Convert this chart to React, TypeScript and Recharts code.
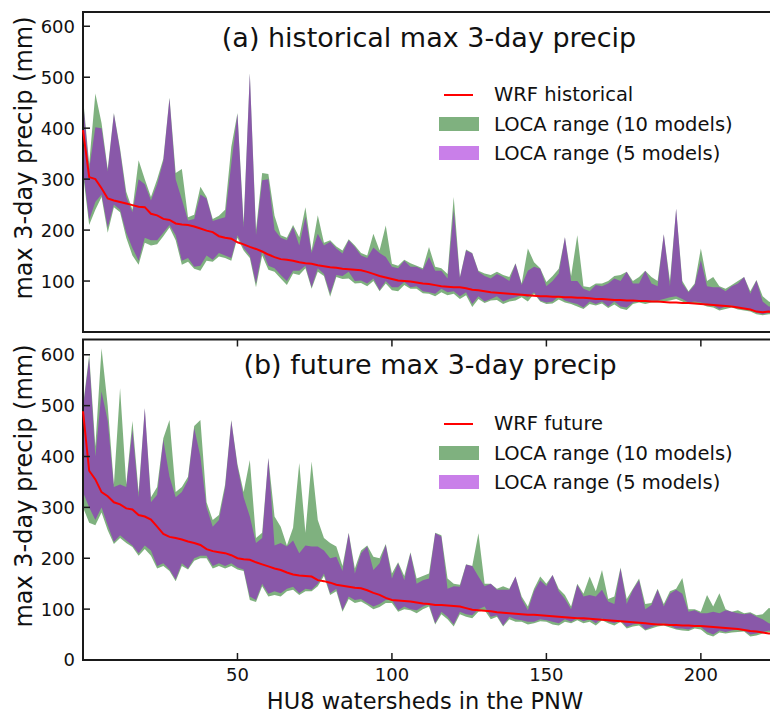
import React from 'react';
import { ComposedChart, Area, Line, XAxis, YAxis, ReferenceArea } from 'recharts';

const FONT = '"DejaVu Sans", sans-serif';
const INK = '#1a1a1a';

// watershed index (every second HU8 watershed, sorted by WRF value)
const watershed = [
  0, 2, 4, 6, 8, 10, 12, 14, 16, 18, 20, 22, 24, 26, 28, 30, 32, 34, 36, 38,
  40, 42, 44, 46, 48, 50, 52, 54, 56, 58, 60, 62, 64, 66, 68, 70, 72, 74, 76, 78,
  80, 82, 84, 86, 88, 90, 92, 94, 96, 98, 100, 102, 104, 106, 108, 110, 112, 114, 116, 118,
  120, 122, 124, 126, 128, 130, 132, 134, 136, 138, 140, 142, 144, 146, 148, 150, 152, 154, 156, 158,
  160, 162, 164, 166, 168, 170, 172, 174, 176, 178, 180, 182, 184, 186, 188, 190, 192, 194, 196, 198,
  200, 202, 204, 206, 208, 210, 212, 214, 216, 218, 220, 222, 224,
];

// (a) historical
const histWrf = [
  396, 304, 300, 282, 262, 258, 255, 252, 249, 246, 245, 232, 229, 222, 220, 213, 211, 210, 207, 203,
  199, 196, 188, 185, 183, 176, 172, 167, 163, 158, 152, 147, 143, 142, 140, 137, 135, 134, 131, 129,
  127, 126, 124, 123, 122, 121, 118, 114, 110, 107, 104, 101, 100, 99, 97, 95, 94, 92, 90, 89,
  88, 88, 86, 83, 82, 80, 78, 77, 76, 75, 74, 73, 72, 71, 70, 70, 69, 69, 68, 68,
  67, 67, 66, 65, 65, 64, 63, 63, 62, 62, 61, 61, 60, 60, 59, 58, 58, 57, 57, 56,
  55, 54, 53, 52, 51, 50, 48, 46, 44, 40, 39, 40, 39,
];
const histHi10 = [
  460, 330, 468, 410, 320, 430, 360, 275, 240, 337, 300, 265, 300, 340, 460, 312, 320, 225, 230, 285,
  265, 222, 228, 240, 363, 430, 215, 508, 200, 312, 310, 228, 190, 185, 210, 186, 245, 160, 229, 175,
  180, 168, 160, 182, 170, 155, 150, 193, 160, 209, 134, 130, 142, 135, 130, 125, 167, 128, 125, 114,
  265, 108, 162, 155, 120, 115, 112, 118, 112, 108, 135, 95, 164, 137, 125, 98, 110, 124, 186, 110,
  190, 90, 88, 95, 95, 100, 110, 112, 118, 100, 108, 120, 108, 100, 192, 100, 242, 100, 80, 95,
  164, 100, 108, 90, 85, 92, 100, 108, 80, 102, 70, 60, 55,
];
const histHi5 = [
  455, 320, 402, 400, 315, 428, 355, 265, 235, 300, 290, 258, 290, 335, 458, 300, 260, 219, 222, 270,
  262, 218, 222, 225, 330, 428, 205, 507, 190, 298, 300, 200, 185, 180, 206, 170, 226, 155, 193, 170,
  177, 164, 154, 180, 167, 150, 145, 166, 155, 147, 128, 125, 140, 128, 128, 122, 147, 120, 120, 105,
  239, 106, 160, 154, 118, 110, 105, 114, 108, 100, 134, 92, 120, 128, 124, 90, 100, 115, 186, 100,
  100, 85, 80, 92, 90, 95, 105, 100, 118, 95, 95, 120, 95, 90, 192, 90, 242, 95, 78, 92,
  141, 90, 88, 88, 80, 90, 95, 108, 75, 101, 60, 50, 50,
];
const histLo5 = [
  320, 220, 255, 270, 205, 250, 240, 195, 165, 140, 185, 180, 180, 195, 210, 190, 140, 145, 128, 130,
  150, 142, 155, 150, 145, 190, 165, 150, 95, 160, 130, 125, 112, 100, 120, 120, 130, 88, 125, 114,
  75, 112, 110, 118, 100, 101, 95, 105, 82, 100, 88, 88, 98, 88, 90, 80, 78, 75, 85, 78,
  80, 70, 78, 55, 70, 60, 65, 70, 60, 65, 68, 72, 68, 78, 62, 58, 60, 70, 62, 58,
  55, 48, 60, 55, 60, 50, 60, 50, 48, 58, 62, 60, 62, 62, 65, 68, 70, 65, 58, 60,
  58, 55, 52, 45, 50, 52, 48, 45, 43, 38, 35, 38, 38,
];
const histLo10 = [
  310, 210, 240, 265, 195, 245, 235, 185, 150, 132, 175, 170, 172, 188, 205, 180, 132, 138, 124, 120,
  140, 138, 148, 145, 140, 185, 160, 145, 88, 150, 122, 118, 105, 92, 115, 112, 125, 85, 118, 110,
  69, 108, 104, 105, 95, 96, 90, 100, 80, 95, 82, 80, 92, 85, 85, 76, 75, 70, 78, 72,
  75, 65, 72, 49, 65, 57, 62, 63, 55, 60, 62, 68, 60, 75, 60, 55, 56, 64, 58, 55,
  50, 45, 55, 52, 56, 47, 54, 46, 43, 55, 58, 55, 58, 58, 60, 62, 65, 60, 55, 56,
  55, 50, 48, 42, 45, 48, 44, 42, 40, 35, 33, 35, 35,
];

// (b) future
const futWrf = [
  489, 372, 355, 330, 322, 310, 306, 298, 296, 285, 282, 276, 262, 248, 242, 240, 237, 233, 230, 226,
  218, 214, 212, 210, 206, 200, 198, 197, 192, 188, 184, 180, 177, 172, 168, 166, 165, 164, 157, 155,
  152, 148, 146, 144, 142, 141, 137, 132, 128, 122, 118, 117, 116, 115, 113, 111, 110, 108, 108, 107,
  106, 105, 102, 99, 98, 97, 96, 94, 93, 92, 91, 90, 89, 89, 88, 87, 86, 85, 84, 83,
  82, 82, 81, 80, 79, 78, 77, 76, 75, 74, 73, 72, 71, 70, 70, 69, 69, 68, 68, 67,
  67, 66, 65, 64, 63, 62, 61, 59, 57, 56, 54, 52, 52,
];
const futHi10 = [
  500, 600, 420, 613, 500, 345, 534, 345, 470, 330, 495, 320, 340, 436, 472, 330, 340, 360, 460, 472,
  310, 275, 285, 345, 472, 385, 330, 393, 240, 250, 397, 282, 262, 225, 260, 387, 250, 390, 275, 240,
  230, 223, 185, 250, 180, 215, 225, 203, 200, 228, 170, 192, 165, 212, 160, 165, 170, 250, 245, 160,
  150, 148, 188, 185, 249, 150, 150, 140, 145, 140, 164, 125, 105, 140, 164, 150, 167, 140, 128, 105,
  150, 130, 164, 135, 177, 120, 125, 182, 120, 140, 160, 110, 112, 140, 110, 135, 140, 161, 100, 100,
  95, 128, 105, 131, 100, 95, 98, 92, 94, 88, 90, 102, 100,
];
const futHi5 = [
  495, 593, 400, 528, 470, 340, 345, 340, 452, 320, 495, 310, 325, 433, 360, 320, 330, 354, 456, 400,
  300, 262, 275, 338, 470, 380, 320, 282, 230, 240, 397, 225, 230, 223, 235, 210, 225, 223, 223, 215,
  200, 203, 175, 249, 170, 210, 223, 177, 190, 226, 160, 190, 157, 210, 150, 157, 160, 249, 243, 140,
  145, 144, 187, 185, 164, 145, 150, 138, 138, 138, 164, 120, 98, 135, 157, 145, 167, 135, 120, 100,
  148, 125, 128, 125, 138, 115, 110, 180, 110, 138, 157, 100, 108, 138, 105, 130, 138, 130, 95, 98,
  92, 92, 95, 92, 98, 95, 92, 90, 92, 85, 80, 72, 70,
];
const futLo5 = [
  330, 300, 275, 300, 265, 232, 245, 235, 225, 210, 225, 215, 185, 190, 178, 158, 190, 180, 200, 205,
  205, 185, 190, 185, 190, 182, 178, 125, 118, 150, 130, 135, 131, 140, 144, 131, 140, 138, 150, 170,
  131, 140, 98, 125, 118, 120, 112, 105, 110, 118, 118, 98, 105, 100, 98, 105, 110, 72, 95, 85,
  70, 95, 90, 88, 100, 105, 85, 88, 68, 85, 80, 78, 75, 75, 80, 78, 75, 72, 80, 75,
  82, 76, 80, 72, 82, 75, 72, 78, 65, 70, 72, 60, 65, 70, 72, 68, 62, 62, 60, 65,
  65, 55, 50, 58, 55, 58, 60, 58, 50, 52, 55, 58, 55,
];
const futLo10 = [
  300, 270, 265, 290, 255, 228, 240, 230, 222, 205, 218, 205, 180, 185, 175, 155, 185, 178, 195, 200,
  200, 180, 185, 180, 185, 178, 175, 118, 114, 145, 125, 128, 125, 135, 138, 128, 135, 135, 145, 165,
  128, 135, 95, 120, 112, 115, 108, 100, 104, 112, 112, 95, 100, 98, 92, 100, 105, 70, 90, 80,
  66, 90, 85, 82, 95, 98, 80, 85, 66, 80, 75, 75, 70, 72, 76, 75, 70, 68, 75, 72,
  78, 72, 75, 68, 78, 72, 68, 75, 62, 66, 68, 58, 62, 66, 68, 64, 60, 58, 57, 62,
  60, 50, 46, 54, 52, 54, 55, 56, 46, 48, 52, 55, 52,
];

const yTicks = [0, 100, 200, 300, 400, 500, 600];
const xTicks = [50, 100, 150, 200];

const buildRows = (wrf: number[], lo10: number[], hi10: number[], lo5: number[], hi5: number[]) =>
  watershed.map((x, i) => ({ x, wrf: wrf[i], r10: [lo10[i], hi10[i]], r5: [lo5[i], hi5[i]] }));

const histRows = buildRows(histWrf, histLo10, histHi10, histLo5, histHi5);
const futRows = buildRows(futWrf, futLo10, futHi10, futLo5, futHi5);

const YTick = (props: any) => {
  const { x, y, payload } = props;
  return (
    <g>
      <line x1={x + 8} x2={x + 15} y1={y} y2={y} stroke={INK} strokeWidth={1.5} />
      <text x={x} y={y} dy="0.36em" textAnchor="end" fontSize={18} fontFamily={FONT} fill="#111">
        {payload.value}
      </text>
    </g>
  );
};

// bottom tick of panel (b); also puts the inward tick on the top border
const XTick = (props: any) => {
  const { x, y, payload } = props;
  return (
    <g>
      <line x1={x} x2={x} y1={y} y2={y - 7} stroke={INK} strokeWidth={1.5} />
      <line x1={x} x2={x} y1={y - 320.5} y2={y - 313.5} stroke={INK} strokeWidth={1.5} />
      <text x={x} y={y + 21} textAnchor="middle" fontSize={18} fontFamily={FONT} fill="#111">
        {payload.value}
      </text>
    </g>
  );
};

const Panel = ({ rows, yMax, height, margin, showX }: any) => (
  <ComposedChart width={780} height={height} data={rows} margin={margin}>
    <XAxis
      dataKey="x"
      type="number"
      domain={[0, 224]}
      ticks={xTicks}
      axisLine={false}
      tickLine={false}
      tickSize={0}
      tickMargin={0}
      height={showX ? 54 : 0}
      tick={showX ? <XTick /> : false}
    />
    <YAxis
      type="number"
      domain={[0, yMax]}
      ticks={yTicks}
      width={83}
      axisLine={false}
      tickLine={false}
      tickSize={0}
      tickMargin={8}
      tick={<YTick />}
    />
    <Area type="linear" dataKey="r10" stroke="none" fill="#006400" fillOpacity={0.5} isAnimationActive={false} />
    <Area type="linear" dataKey="r5" stroke="none" fill="#9400d3" fillOpacity={0.5} isAnimationActive={false} />
    <Line type="linear" dataKey="wrf" stroke="#ff0000" strokeWidth={2} dot={false} isAnimationActive={false} />
    <ReferenceArea x1={0} x2={224} y1={0} y2={yMax} fill="none" stroke={INK} strokeWidth={2} ifOverflow="visible" />
  </ComposedChart>
);

const text = (s: string, left: number, top: number, size: number, extra: any = {}) => (
  <div
    style={{
      position: 'absolute', left, top, fontSize: size, fontFamily: FONT, color: '#111',
      lineHeight: 1, whiteSpace: 'nowrap', transform: 'translate(0, -50%)', ...extra,
    }}
  >
    {s}
  </div>
);

const LegendBlock = ({ top, wrfLabel }: { top: number; wrfLabel: string }) => (
  <>
    <div style={{ position: 'absolute', left: 444, top: top - 1, width: 29, height: 2, background: '#ff0000' }} />
    <div style={{ position: 'absolute', left: 439, top: top + 22, width: 40, height: 14, background: 'rgba(0,100,0,0.5)' }} />
    <div style={{ position: 'absolute', left: 439, top: top + 51, width: 40, height: 14, background: 'rgba(148,0,211,0.5)' }} />
    {text(wrfLabel, 494, top, 19.5)}
    {text('LOCA range (10 models)', 494, top + 29.5, 19.5)}
    {text('LOCA range (5 models)', 494, top + 58.5, 19.5)}
  </>
);

export default function App() {
  return (
    <div style={{ position: 'absolute', left: 0, top: 0, width: 770, height: 714, overflow: 'hidden', background: '#fff' }}>
      <div style={{ position: 'absolute', left: 0, top: 0 }}>
        <Panel rows={histRows} yMax={628} height={340} margin={{ top: 12, right: 5, bottom: 8, left: 0 }} showX={false} />
      </div>
      <div style={{ position: 'absolute', left: 0, top: 330 }}>
        <Panel rows={futRows} yMax={630} height={384} margin={{ top: 9.5, right: 5, bottom: 0, left: 0 }} showX />
      </div>

      {text('(a) historical max 3-day precip', 429, 37, 27, { transform: 'translate(-50%, -50%)' })}
      {text('(b) future max 3-day precip', 430, 364, 27, { transform: 'translate(-50%, -50%)' })}
      <LegendBlock top={95} wrfLabel="WRF historical" />
      <LegendBlock top={424} wrfLabel="WRF future" />

      {text('max 3-day precip (mm)', 24, 158, 24, { transform: 'translate(-50%, -50%) rotate(-90deg)' })}
      {text('max 3-day precip (mm)', 24, 486, 24, { transform: 'translate(-50%, -50%) rotate(-90deg)' })}
      {text('HU8 watersheds in the PNW', 425, 701, 22.5, { transform: 'translate(-50%, -50%)' })}
    </div>
  );
}
